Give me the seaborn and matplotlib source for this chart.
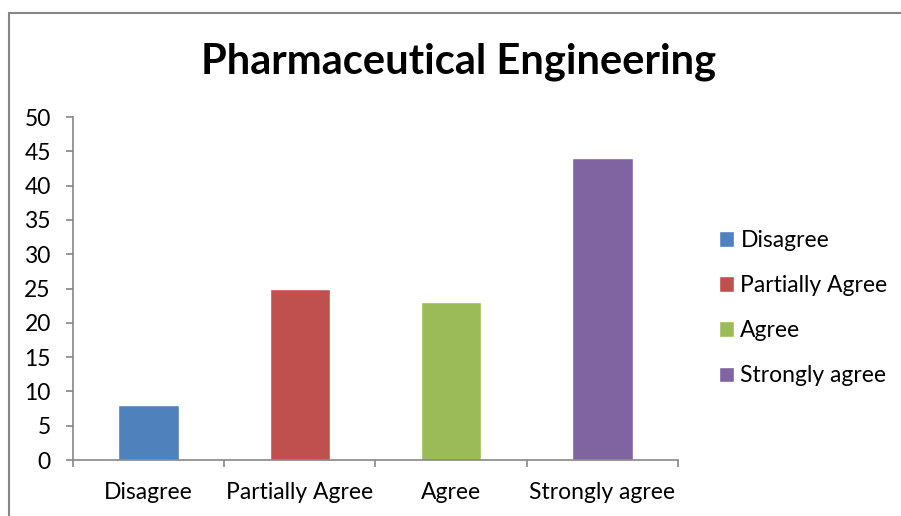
import matplotlib
matplotlib.use("Agg")
import matplotlib.pyplot as plt
import seaborn as sns
import pandas as pd
from matplotlib.lines import Line2D

categories = ["Disagree", "Partially Agree", "Agree", "Strongly agree"]
values = [8, 25, 23, 44]
colors = ["#4F81BD", "#C0504D", "#9BBB59", "#8064A2"]

sns.set_style("white")
plt.rcParams["font.family"] = ["Lato", "DejaVu Sans"]
plt.rcParams["text.color"] = "black"

df = pd.DataFrame({"category": categories, "value": values})

fig = plt.figure(figsize=(9.01, 5.16), dpi=100)
ax = fig.add_axes([0.081, 0.1085, 0.6715, 0.6645])

sns.barplot(
    data=df,
    x="category",
    y="value",
    hue="category",
    palette=colors,
    width=0.4,
    dodge=False,
    saturation=1,
    legend=True,
    ax=ax,
)

grey = "#868686"
fs = 16.5
ax.set_xlim(-0.5, len(categories) - 0.5)
ax.set_ylim(0, 50)
ax.set_yticks(range(0, 51, 5))
ax.set_xlabel("")
ax.set_ylabel("")

for s in ["top", "right"]:
    ax.spines[s].set_visible(False)
for s in ["left", "bottom"]:
    ax.spines[s].set_color(grey)
    ax.spines[s].set_linewidth(1.2)

ax.tick_params(axis="y", direction="out", length=5, width=1.2, color=grey,
               pad=11, labelsize=fs, labelcolor="black", left=True)
ax.set_xticks(range(len(categories)))
ax.set_xticklabels(categories)
ax.tick_params(axis="x", which="major", length=0, pad=16, labelsize=fs,
               labelcolor="black")
ax.set_xticks([i - 0.5 for i in range(len(categories) + 1)], minor=True)
ax.tick_params(axis="x", which="minor", direction="out", length=5, width=1.2,
               color=grey, bottom=True)

handles, labels = ax.get_legend_handles_labels()
ax.legend(handles, labels, loc="center left", bbox_to_anchor=(1.052, 0.443),
          frameon=False, fontsize=fs, handlelength=0.65, handleheight=0.65,
          handletextpad=0.3, labelspacing=1.05, borderaxespad=0)

fig.text(459 / 901, 1 - 62 / 516, "Pharmaceutical Engineering",
         ha="center", va="center", fontsize=30, fontweight="bold",
         color="black")

# chart frame, only top and left edges are visible in the crop
y_top = 1 - 12.5 / 516
x_left = 8.5 / 901
fig.add_artist(Line2D([x_left, 1.01], [y_top, y_top], transform=fig.transFigure,
                      color=grey, linewidth=1.5))
fig.add_artist(Line2D([x_left, x_left], [-0.01, y_top], transform=fig.transFigure,
                      color=grey, linewidth=1.5))

fig.savefig("out.png", dpi=100, facecolor="white")
